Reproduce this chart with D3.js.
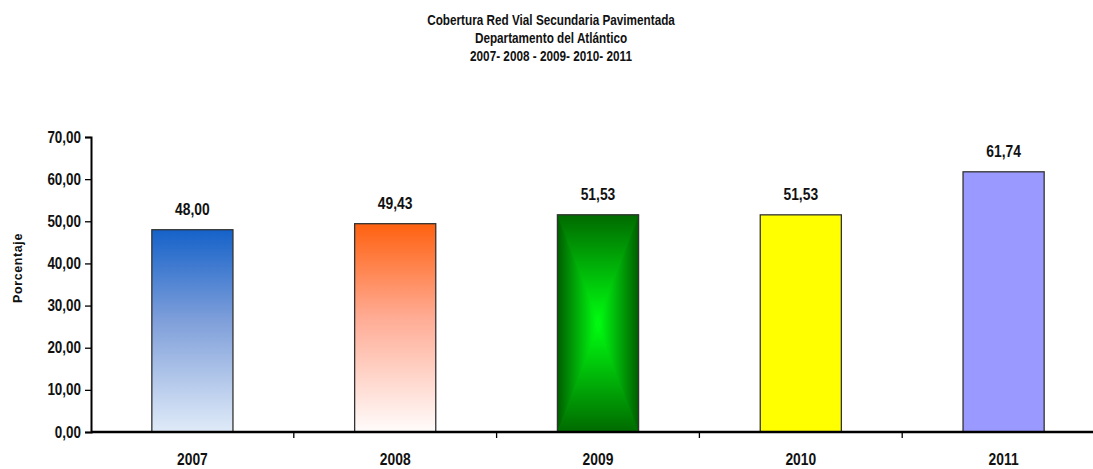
<!DOCTYPE html>
<html>
<head>
<meta charset="utf-8">
<script src="https://cdn.jsdelivr.net/npm/d3@7"></script>
<style>
  body { margin: 0; background: #fff; }
  svg { display: block; }
  text { font-family: "Liberation Sans", Arial, sans-serif; font-weight: bold; fill: #111; }
</style>
</head>
<body>
<svg id="chart"></svg>
<script>
// chart data
const years = ["2007", "2008", "2009", "2010", "2011"];
const values = [48.00, 49.43, 51.53, 51.53, 61.74];
const yTicks = [0, 10, 20, 30, 40, 50, 60, 70];
const titleLines = [
  "Cobertura Red Vial Secundaria Pavimentada",
  "Departamento del Atlántico",
  "2007- 2008 - 2009- 2010- 2011"
];
const yLabel = "Porcentaje";

const width = 1093, height = 469;
const margin = { top: 137, right: -12, bottom: 37, left: 91 };
const squeeze = 0.84; // the original uses a narrow face

const svg = d3.select("#chart")
  .attr("width", width)
  .attr("height", height);

const locale = d3.formatLocale({ decimal: ",", thousands: ".", grouping: [3], currency: ["$", ""] });
const fmt = locale.format(".2f");

const x = d3.scaleBand()
  .domain(years)
  .range([margin.left, width - margin.right])
  .paddingInner(0.6)
  .paddingOuter(0.3);

const y = d3.scaleLinear()
  .domain([0, 70])
  .range([height - margin.bottom, margin.top]);

// condensed text: position with translate, then squeeze horizontally
function narrow(sel, fx, fy) {
  sel.attr("transform", (d, i) => `translate(${fx(d, i)},${fy(d, i)}) scale(${squeeze},1)`);
}

// gradients
const defs = svg.append("defs");

const g2007 = defs.append("linearGradient").attr("id", "g2007")
  .attr("x1", 0).attr("y1", 0).attr("x2", 0).attr("y2", 1);
g2007.append("stop").attr("offset", "0%").attr("stop-color", "#1562c9");
g2007.append("stop").attr("offset", "45%").attr("stop-color", "#7f9fda");
g2007.append("stop").attr("offset", "100%").attr("stop-color", "#e0ebf8");

const g2008 = defs.append("linearGradient").attr("id", "g2008")
  .attr("x1", 0).attr("y1", 0).attr("x2", 0).attr("y2", 1);
g2008.append("stop").attr("offset", "0%").attr("stop-color", "#ff6110");
g2008.append("stop").attr("offset", "45%").attr("stop-color", "#ffab94");
g2008.append("stop").attr("offset", "100%").attr("stop-color", "#fffcfc");

// "from center" green: dark edges, bright middle
function greenGrad(id, x1, y1, x2, y2, dark) {
  const g = defs.append("linearGradient").attr("id", id)
    .attr("x1", x1).attr("y1", y1).attr("x2", x2).attr("y2", y2);
  g.append("stop").attr("offset", "0%").attr("stop-color", dark);
  g.append("stop").attr("offset", "100%").attr("stop-color", "#00ff10");
}
greenGrad("gGreenV", 0, 0, 0, 1, "#006a00");
greenGrad("gGreenV2", 0, 1, 0, 0, "#006a00");
greenGrad("gGreenH", 0, 0, 1, 0, "#005e00");
greenGrad("gGreenH2", 1, 0, 0, 0, "#005e00");

const fills = ["url(#g2007)", "url(#g2008)", "#0b9e0b", "#ffff00", "#9999ff"];

const data = years.map((yr, i) => ({ year: yr, value: values[i], fill: fills[i] }));

// title
svg.append("g").selectAll("text")
  .data(titleLines)
  .join("text")
    .attr("text-anchor", "middle")
    .attr("font-size", 14)
    .text(d => d)
    .call(narrow, () => 551, (d, i) => 25 + i * 18);

// bars
svg.append("g").selectAll("rect")
  .data(data)
  .join("rect")
    .attr("x", d => x(d.year))
    .attr("y", d => y(d.value))
    .attr("width", x.bandwidth())
    .attr("height", d => y(0) - y(d.value))
    .attr("fill", d => d.fill);

// 2009 bar: four triangles meeting at the centre
const b09 = data[2];
const x0 = x(b09.year), x1 = x0 + x.bandwidth();
const y0 = y(b09.value), y1 = y(0);
const cx = (x0 + x1) / 2, cyc = (y0 + y1) / 2;
const tri = [
  { pts: [[x0, y0], [x1, y0], [cx, cyc]], fill: "url(#gGreenV)" },
  { pts: [[x0, y1], [x1, y1], [cx, cyc]], fill: "url(#gGreenV2)" },
  { pts: [[x0, y0], [x0, y1], [cx, cyc]], fill: "url(#gGreenH)" },
  { pts: [[x1, y0], [x1, y1], [cx, cyc]], fill: "url(#gGreenH2)" }
];
svg.append("g").selectAll("path")
  .data(tri)
  .join("path")
    .attr("d", d => "M" + d.pts.map(p => p.join(",")).join("L") + "Z")
    .attr("fill", d => d.fill)
    .attr("stroke", d => d.fill)
    .attr("stroke-width", 0.5);

// bar outlines
svg.append("g").selectAll("rect")
  .data(data)
  .join("rect")
    .attr("x", d => x(d.year))
    .attr("y", d => y(d.value))
    .attr("width", x.bandwidth())
    .attr("height", d => y(0) - y(d.value))
    .attr("fill", "none")
    .attr("stroke", "#333")
    .attr("stroke-width", 1.3);

// value labels
svg.append("g").selectAll("text")
  .data(data)
  .join("text")
    .attr("text-anchor", "middle")
    .attr("font-size", 16.5)
    .text(d => fmt(d.value))
    .call(narrow, d => x(d.year) + x.bandwidth() / 2, d => y(d.value) - 15);

// y axis
const yAxis = svg.append("g")
  .attr("transform", `translate(${margin.left},0)`)
  .call(d3.axisLeft(y).tickValues(yTicks).tickFormat(fmt).tickSize(6).tickPadding(4));
yAxis.attr("font-family", null).attr("font-size", null);
yAxis.select(".domain").attr("stroke", "#000").attr("stroke-width", 2);
yAxis.selectAll(".tick line").attr("stroke", "#000").attr("stroke-width", 1.3);
yAxis.selectAll(".tick text")
  .attr("font-size", 16)
  .attr("fill", "#111")
  .attr("x", -10 / squeeze)
  .attr("transform", `scale(${squeeze},1)`);

// x axis: line plus ticks between categories
const xAxisY = y(0);
const boundaries = years.slice(1).map(yr => x(yr) - x.step() * x.paddingInner() / 2);
svg.append("line")
  .attr("x1", margin.left).attr("x2", width)
  .attr("y1", xAxisY).attr("y2", xAxisY)
  .attr("stroke", "#000").attr("stroke-width", 2.5);
svg.append("g").selectAll("line")
  .data(boundaries)
  .join("line")
    .attr("x1", d => d).attr("x2", d => d)
    .attr("y1", xAxisY).attr("y2", xAxisY + 6)
    .attr("stroke", "#000").attr("stroke-width", 1.3);
svg.append("g").selectAll("text")
  .data(years)
  .join("text")
    .attr("text-anchor", "middle")
    .attr("font-size", 16.5)
    .text(d => d)
    .call(narrow, d => x(d) + x.bandwidth() / 2, () => xAxisY + 33);

// y label
svg.append("text")
  .attr("transform", `translate(22,268) rotate(-90)`)
  .attr("text-anchor", "middle")
  .attr("font-size", 12.5)
  .attr("letter-spacing", 0.6)
  .text(yLabel);
</script>
</body>
</html>
